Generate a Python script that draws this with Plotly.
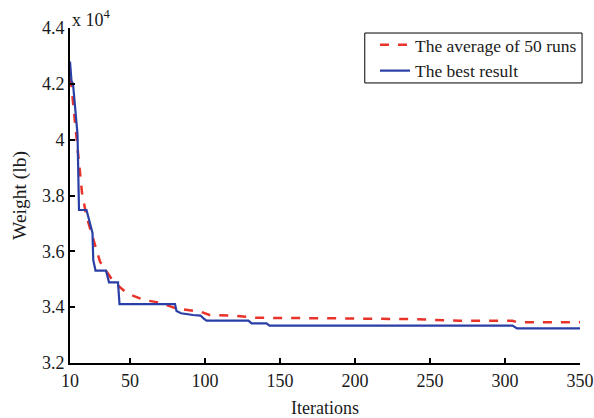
import plotly.graph_objects as go

# Data (weight in units of 1e4 lb)
best_iter = [10, 11, 12, 15, 16, 21, 25, 25.5, 27, 34, 36, 42, 43, 80, 81, 84, 92, 97, 99, 101, 129, 131, 141, 143, 305, 308, 350]
best_weight = [4.28, 4.21, 4.20, 4.02, 3.748, 3.748, 3.666, 3.569, 3.531, 3.531, 3.489, 3.489, 3.411, 3.411,
               3.386, 3.378, 3.372, 3.370, 3.360, 3.352, 3.352, 3.342, 3.342, 3.334, 3.334, 3.324, 3.324]

avg_iter = [10, 11, 13, 15.5, 18, 21, 25.5, 30, 34.5, 39, 48, 59, 70, 81, 97, 103, 119, 134, 185, 241, 270, 305, 308, 350]
avg_weight = [4.22, 4.19, 4.08, 3.93, 3.81, 3.725, 3.641, 3.563, 3.527, 3.491, 3.45, 3.426, 3.416, 3.395,
              3.384, 3.372, 3.37, 3.362, 3.36, 3.357, 3.351, 3.351, 3.346, 3.346]

x_ticks = [10, 50, 100, 150, 200, 250, 300, 350]
y_ticks = [3.2, 3.4, 3.6, 3.8, 4.0, 4.2, 4.4]
y_tick_text = ["3.2", "3.4", "3.6", "3.8", "4", "4.2", "4.4"]

FONT = "Liberation Serif, Times New Roman, serif"

fig = go.Figure()
fig.add_trace(go.Scatter(x=avg_iter, y=avg_weight, mode="lines", name="The average of 50 runs",
                         line=dict(color="#e8322a", width=2.5, dash="dash")))
fig.add_trace(go.Scatter(x=best_iter, y=best_weight, mode="lines", name="The best result",
                         line=dict(color="#2a3fa6", width=2.2)))

# legend frame drawn as a shape so its size matches the reference
fig.add_shape(type="rect", xref="paper", yref="paper", x0=0.578, x1=1.004, y0=0.836, y1=0.985,
              line=dict(color="black", width=1), fillcolor="white", layer="below")

fig.update_layout(
    width=594, height=418,
    margin=dict(l=70, r=14, t=28, b=55, autoexpand=False),
    paper_bgcolor="white", plot_bgcolor="white",
    font=dict(family=FONT, size=18, color="#1a1a1a"),
    showlegend=True,
    legend=dict(x=0.598, y=1.003, xanchor="left", yanchor="top",
                borderwidth=0, bgcolor="rgba(0,0,0,0)",
                font=dict(family=FONT, size=17.5, color="#1a1a1a"),
                tracegroupgap=0, itemwidth=30),
    xaxis=dict(range=[10, 350], tickvals=x_ticks, ticktext=[str(v) for v in x_ticks],
               showline=True, linecolor="black", linewidth=2, ticks="inside", ticklen=5,
               tickwidth=2, tickcolor="black", showgrid=False, zeroline=False,
               tickfont=dict(size=18), automargin=False,
               title=dict(text="Iterations", font=dict(size=18), standoff=14)),
    yaxis=dict(range=[3.2, 4.4], tickvals=y_ticks, ticktext=y_tick_text,
               showline=True, linecolor="black", linewidth=2, ticks="inside", ticklen=5,
               tickwidth=2, tickcolor="black", showgrid=False, zeroline=False,
               tickfont=dict(size=18), automargin=False,
               title=dict(text="Weight (lb)", font=dict(size=19.5), standoff=10)),
    annotations=[dict(text="x 10<sup>4</sup>", x=0, y=1.0, xref="paper", yref="paper",
                      xanchor="left", yanchor="bottom", showarrow=False, yshift=-4,
                      font=dict(family=FONT, size=18, color="#1a1a1a"))],
)

fig.write_html("out.html")
